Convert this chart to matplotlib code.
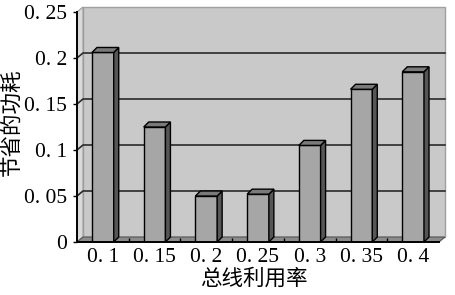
import matplotlib.pyplot as plt
from matplotlib.patches import Polygon

plt.rcParams['font.family'] = ['Liberation Serif', 'Noto Sans CJK SC']

# data
utilization = ['0. 1', '0. 15', '0. 2', '0. 25', '0. 3', '0. 35', '0. 4']
saved_power = [0.206, 0.125, 0.050, 0.052, 0.105, 0.166, 0.185]
y_ticks = [0, 0.05, 0.1, 0.15, 0.2, 0.25]
y_tick_labels = ['0', '0. 05', '0. 1', '0. 15', '0. 2', '0. 25']

fig = plt.figure(figsize=(4.55, 2.95), dpi=100)
ax = fig.add_axes([77 / 455, 53 / 295, 362 / 455, 230 / 295])
x0, x1 = -0.5, len(utilization) - 0.5
ax.set_xlim(x0, x1)
ax.set_ylim(0, 0.25)
ax.patch.set_visible(False)

# fake 3d depth (data units)
dx = 6 / 51.7
dy = 5 / 920
top = y_ticks[-1]

# walls and floor
back = Polygon([(x0 + dx, dy), (x1 + dx, dy), (x1 + dx, top + dy), (x0 + dx, top + dy)],
               facecolor='#c9c9c9', edgecolor='#a0a0a0', lw=1, clip_on=False, zorder=0)
left = Polygon([(x0, 0), (x0 + dx, dy), (x0 + dx, top + dy), (x0, top)],
               facecolor='#dadada', edgecolor='#9a9a9a', lw=0.8, clip_on=False, zorder=0)
floor = Polygon([(x0, 0), (x1, 0), (x1 + dx, dy), (x0 + dx, dy)],
                facecolor='#8c8c8c', edgecolor='#555555', lw=0.8, clip_on=False, zorder=0)
for p in [back, left, floor]:
    ax.add_patch(p)

# gridlines run across the left wall and the back wall
for v in y_ticks[1:-1]:
    ax.plot([x0, x0 + dx, x1 + dx], [v, v + dy, v + dy], color='#2a2a2a', lw=1.2,
            clip_on=False, zorder=1)

# bars
w = 0.42
bdx = 5 / 51.7
bdy = 5 / 920
xs = list(range(len(utilization)))
ax.bar(xs, saved_power, width=w, color='#a6a6a6', edgecolor='black', lw=1, zorder=3)
for x, v in zip(xs, saved_power):
    r = x + w / 2
    l = x - w / 2
    side = Polygon([(r, 0), (r + bdx, bdy), (r + bdx, v + bdy), (r, v)],
                   facecolor='#565656', edgecolor='black', lw=1, zorder=3, clip_on=False)
    cap = Polygon([(l, v), (r, v), (r + bdx, v + bdy), (l + bdx, v + bdy)],
                  facecolor='#7a7a7a', edgecolor='black', lw=1, zorder=3, clip_on=False)
    ax.add_patch(side)
    ax.add_patch(cap)

# axes
for s in ['top', 'right']:
    ax.spines[s].set_visible(False)
for s in ['left', 'bottom']:
    ax.spines[s].set_linewidth(1.4)
    ax.spines[s].set_zorder(4)

ax.set_yticks(y_ticks, y_tick_labels)
ax.set_xticks(xs, utilization)
ax.set_xticks([i + 0.5 for i in xs[:-1]], minor=True)
ax.tick_params(axis='y', length=3, width=1, direction='out', labelsize=15.5, pad=4)
ax.tick_params(axis='x', which='major', length=0, labelsize=15.5, pad=4)
ax.tick_params(axis='x', which='minor', length=3, width=1, direction='in')

fig.text(12 / 455, 1 - 122 / 295, '节省的功耗', rotation=90, ha='center', va='center',
         fontsize=15.5, family='Noto Sans CJK SC')
fig.text(254 / 455, 1 - 279 / 295, '总线利用率', ha='center', va='center',
         fontsize=15.5, family='Noto Sans CJK SC')

fig.savefig('out.png', dpi=100)
